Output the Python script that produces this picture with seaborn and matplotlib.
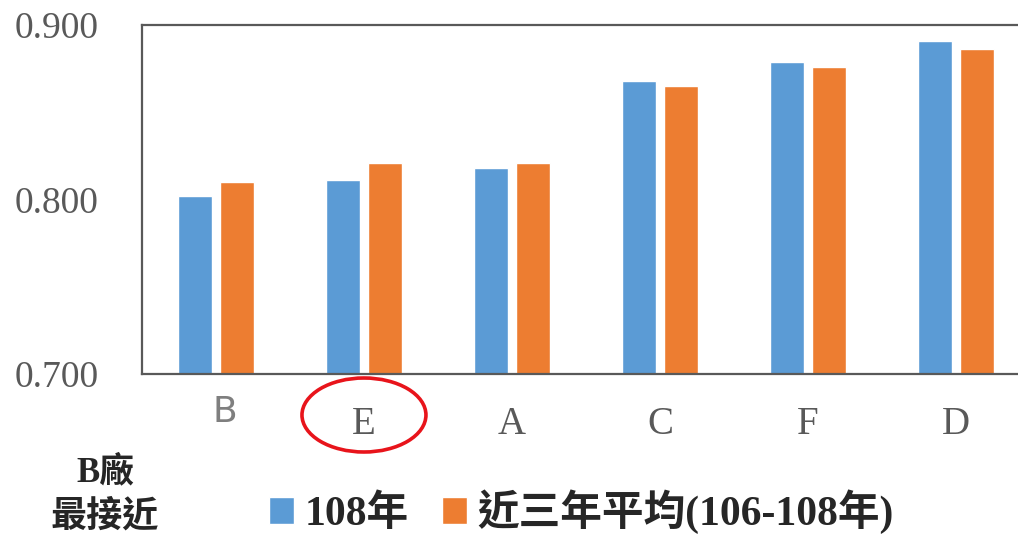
import seaborn as sns
import pandas as pd
import matplotlib.pyplot as plt
import matplotlib.transforms as mtransforms
from matplotlib.patches import Ellipse

# data
plants = ["B", "E", "A", "C", "F", "D"]
val_108 = [0.802, 0.811, 0.818, 0.868, 0.879, 0.891]
val_avg = [0.810, 0.821, 0.821, 0.865, 0.876, 0.886]
series_names = ["108年", "近三年平均(106-108年)"]
y_ticks = [0.700, 0.800, 0.900]

df = pd.DataFrame({
    "plant": plants * 2,
    "value": val_108 + val_avg,
    "series": [series_names[0]] * len(plants) + [series_names[1]] * len(plants),
})

sns.set_style("white")
plt.rcParams["font.family"] = ["Liberation Serif", "Noto Sans CJK TC", "DejaVu Sans"]

fig = plt.figure(figsize=(10.18, 5.36), dpi=100)
ax = fig.add_axes([142 / 1018, 1 - 374 / 536, 1 - 142 / 1018, (374 - 25) / 536])

sns.barplot(data=df, x="plant", y="value", hue="series", order=plants,
            hue_order=series_names, palette=["#5B9BD5", "#ED7D31"], saturation=1,
            width=0.57, gap=0.2, ax=ax, legend=True)

ax.set_ylim(0.700, 0.900)
ax.set_xlim(-0.5, 5.42)
ax.set_yticks(y_ticks)
ax.set_yticklabels([f"{v:.3f}" for v in y_ticks])
# "B" is drawn separately below, in a sans face like the reference
ax.set_xticks(range(len(plants)))
ax.set_xticklabels(["" if p == "B" else p for p in plants])
ax.set_xlabel("")
ax.set_ylabel("")

# spines: left, top, bottom only
for side in ["left", "top", "bottom"]:
    ax.spines[side].set_color("#595959")
    ax.spines[side].set_linewidth(1.6)
ax.spines["right"].set_visible(False)

ax.tick_params(axis="y", direction="in", length=9, width=1.6, color="#595959",
               labelsize=27, labelcolor="#595959", pad=31)
ax.tick_params(axis="x", length=0, labelsize=28, labelcolor="#595959", pad=23)

xlab_trans = mtransforms.offset_copy(
    mtransforms.blended_transform_factory(ax.transData, ax.transAxes),
    fig=fig, x=6, y=-15, units="points")
ax.text(plants.index("B"), 0, "B", transform=xlab_trans, ha="center", va="top",
        fontsize=26, color="#7f7f7f", fontfamily="DejaVu Sans")

# legend at the bottom
handles, labels = ax.get_legend_handles_labels()
ax.get_legend().remove()
fig.legend(handles, labels, loc="center", bbox_to_anchor=(0.571, 0.045), ncol=2,
           frameon=False, handlelength=0.6, handleheight=0.6, handletextpad=0.25,
           columnspacing=0.8,
           prop={"family": ["Liberation Serif", "Noto Sans CJK TC"], "weight": "bold", "size": 30})

# side note
fig.text(105 / 1018, 1 - 472 / 536, "B廠", ha="center", va="center", fontsize=25,
         fontweight="bold", family=["Liberation Serif", "Noto Sans CJK TC"])
fig.text(105 / 1018, 1 - 516 / 536, "最接近", ha="center", va="center", fontsize=26,
         fontweight="bold", family=["Noto Sans CJK TC"])

# red ring around E
trans = mtransforms.blended_transform_factory(ax.transData, fig.transFigure)
ring = Ellipse((plants.index("E"), 1 - 415 / 536), width=124 / 148, height=74 / 536,
               transform=trans, fill=False, edgecolor="#E8141B", linewidth=2.6,
               clip_on=False)
fig.add_artist(ring)

plt.savefig("out.png", dpi=100)
plt.close()
